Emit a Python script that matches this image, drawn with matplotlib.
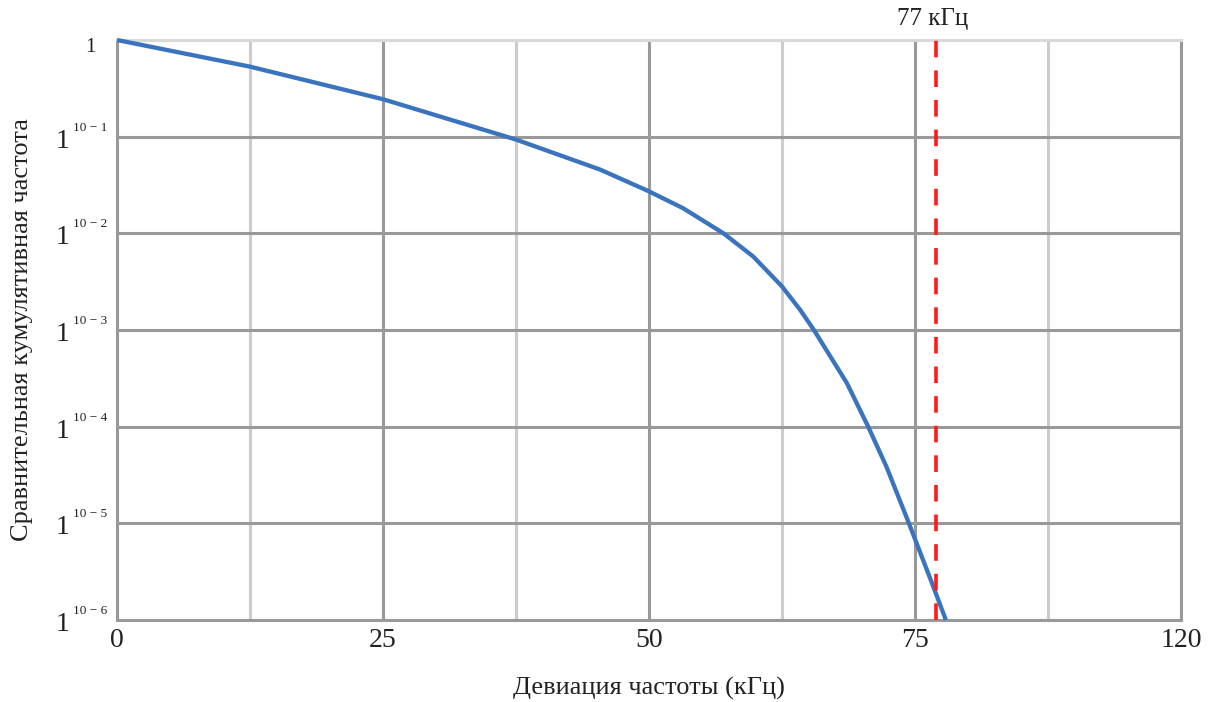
import matplotlib
matplotlib.use("Agg")
import matplotlib.pyplot as plt

plt.rcParams['font.family'] = ['Liberation Serif', 'DejaVu Serif']

# curve (kHz, cumulative frequency)
deviation = [0, 12.5, 25, 37.5, 45.4, 49.9, 53.2, 57, 59.8, 62.5, 64.2, 65.5,
             68.6, 70.6, 72.3, 74.4, 76.6, 77.9]
cum_freq = [1.0, 0.530, 0.244, 0.0933, 0.0457, 0.0275, 0.0182, 0.0100, 0.00575,
            0.00282, 0.00162, 0.00100, 2.82e-4, 1.0e-4, 3.89e-5, 1.02e-5, 2.4e-6, 1.0e-6]

limit_khz = 77
limit_label = '77 кГц'

x_ticks = [0, 25, 50, 75, 100]
x_tick_labels = ['0', '25', '50', '75', '120']
x_minor = [12.5, 37.5, 62.5, 87.5]
y_ticks = [1e-6, 1e-5, 1e-4, 1e-3, 1e-2, 1e-1, 1]
y_exp_labels = ['10 \u2212 6', '10 \u2212 5', '10 \u2212 4', '10 \u2212 3', '10 \u2212 2', '10 \u2212 1']

fig = plt.figure(figsize=(12.11, 7.02), dpi=100)
ax = fig.add_axes([117 / 1211, 1 - 620 / 702, 1064 / 1211, 580 / 702])

ax.set_yscale('log')
ax.set_xlim(0, 100)
ax.set_ylim(1e-6, 1)

# grid
for x in x_minor:
    ax.axvline(x, color='#cccccc', lw=2.2, zorder=1)
for x in x_ticks:
    ax.axvline(x, color='#999999', lw=2.2, zorder=1)
for y in y_ticks:
    ax.axhline(y, color='#999999', lw=2.2, zorder=1)

for side in ['left', 'bottom', 'right']:
    ax.spines[side].set_color('#999999')
    ax.spines[side].set_linewidth(2.2)
ax.spines['top'].set_color('#d9d9d9')
ax.spines['top'].set_linewidth(2.2)

ax.plot(deviation, cum_freq, color='#3a74bf', lw=3.1, zorder=3, clip_on=False,
        solid_capstyle='butt', solid_joinstyle='round')

red = ax.axvline(limit_khz, color='#ff1a1a', lw=2.6, zorder=4)
red.set_dashes((4.6, 3.6))
ax.annotate(limit_label, xy=(limit_khz, 1), xycoords='data', xytext=(-4, 21),
            textcoords='offset pixels', ha='center', va='center', fontsize=18,
            color='#222222')

ax.set_xticks(x_ticks)
ax.set_xticklabels(x_tick_labels)
ax.set_yticks(y_ticks)
ax.set_yticklabels([])
ax.minorticks_off()
ax.tick_params(axis='both', length=0, colors='#222222')
ax.tick_params(axis='x', labelsize=20, pad=6)

# odd "1^{10 - k}" labels of the original
ytr = ax.get_yaxis_transform()
for y, lab in zip(y_ticks[:-1], y_exp_labels):
    ax.annotate('1', xy=(0, y), xycoords=ytr, xytext=(-48, -11), textcoords='offset pixels',
                ha='right', va='baseline', fontsize=20, color='#222222')
    ax.annotate(lab, xy=(0, y), xycoords=ytr, xytext=(-44, 6), textcoords='offset pixels',
                ha='left', va='baseline', fontsize=9.5, color='#222222')
ax.annotate('1', xy=(0, 1), xycoords=ytr, xytext=(-21, -12), textcoords='offset pixels',
            ha='right', va='baseline', fontsize=15, color='#222222')

fig.text(649 / 1211, 1 - 688 / 702, 'Девиация частоты (кГц)', ha='center', va='center',
         fontsize=19, color='#222222')
fig.text(22 / 1211, 1 - 330 / 702, 'Сравнительная кумулятивная частота', ha='center',
         va='center', rotation=90, fontsize=19, color='#222222')

fig.savefig('out.png', dpi=100)
